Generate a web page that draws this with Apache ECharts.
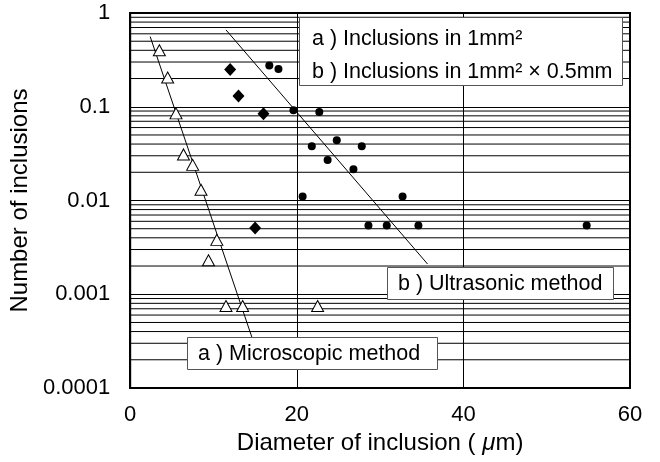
<!DOCTYPE html>
<html>
<head>
<meta charset="utf-8">
<script src="https://cdn.jsdelivr.net/npm/echarts@6/dist/echarts.min.js"></script>
<style>html,body{margin:0;padding:0;background:#fff;}#c{width:660px;height:462px;}</style>
</head>
<body>
<div id="c"></div>
<script>
// ---- data ----
var microscopicX = [3.5, 4.5, 5.5, 6.4, 7.5, 8.5, 10.4, 9.4, 11.5, 13.5, 22.5];
var microscopicY = [0.40, 0.205, 0.085, 0.031, 0.024, 0.013, 0.0038, 0.0023, 0.00075, 0.00075, 0.00075];

var inclAreaX = [12.0, 13.0, 16.0, 15.0];
var inclAreaY = [0.25, 0.13, 0.084, 0.0051];

var ultrasonicX = [16.7, 17.8, 19.6, 22.7, 21.8, 24.8, 27.8, 23.7, 26.8, 20.7, 32.7, 28.6, 30.8, 34.6, 54.8];
var ultrasonicY = [0.275, 0.253, 0.092, 0.088, 0.038, 0.044, 0.038, 0.027, 0.0215, 0.011, 0.011, 0.0054, 0.0054, 0.0054, 0.0054];

var fitMicroX = [2.4, 14.6];
var fitMicroY = [0.56, 0.00035];
var fitUltraX = [11.5, 35.7];
var fitUltraY = [0.66, 0.0021];

var yTickLabels = ['0.0001', '0.001', '0.01', '0.1', '1'];
var xTickLabels = ['0', '20', '40', '60'];

function pairs(xs, ys) { return xs.map(function (x, i) { return [x, ys[i]]; }); }

var FONT = '"Liberation Sans", Arial, sans-serif';
var X_MIN = 0, X_MAX = 60;

// minor horizontal grid lines of the log axis (2..9 x each decade), drawn through the axis scale
var gridSeries = [];
for (var d = -4; d < 0; d++) {
  for (var m = 2; m <= 9; m++) {
    var v = m * Math.pow(10, d);
    gridSeries.push({
      type: 'line', silent: true, symbol: 'none', z: 1,
      data: [[X_MIN, v], [X_MAX, v]],
      lineStyle: { color: '#000', width: 1 }
    });
  }
}

var chart = echarts.init(document.getElementById('c'), null, { renderer: 'canvas' });

var option = {
  backgroundColor: '#fff',
  animation: false,
  grid: { left: 130, right: 30, top: 13, bottom: 74, show: true, borderColor: '#000', borderWidth: 2, backgroundColor: 'transparent' },
  xAxis: {
    type: 'value', min: X_MIN, max: X_MAX, interval: 20,
    name: 'Diameter of inclusion ( {i|μ}m)',
    nameLocation: 'middle', nameGap: 42,
    nameTextStyle: { fontFamily: FONT, fontSize: 24, color: '#000', rich: { i: { fontFamily: FONT, fontSize: 24, fontStyle: 'italic', color: '#000' } } },
    axisLine: { show: true, lineStyle: { color: '#000', width: 2 } },
    axisTick: { show: false },
    axisLabel: { fontFamily: FONT, fontSize: 22, color: '#000', margin: 16,
      formatter: function (v) { var i = Math.round(v / 20); return xTickLabels[i] !== undefined ? xTickLabels[i] : ''; } },
    splitLine: { show: true, lineStyle: { color: '#000', width: 1 } }
  },
  yAxis: {
    type: 'log', logBase: 10, min: 0.0001, max: 1,
    name: 'Number of inclusions',
    nameLocation: 'middle', nameGap: 92, nameRotate: 90,
    nameTextStyle: { fontFamily: FONT, fontSize: 24, color: '#000' },
    axisLine: { show: true, lineStyle: { color: '#000', width: 2 } },
    axisTick: { show: true, inside: true, length: 8, lineStyle: { color: '#000', width: 1 } },
    axisLabel: { fontFamily: FONT, fontSize: 22, color: '#000', margin: 20, padding: [11, 0, 0, 0],
      formatter: function (v) { var i = Math.round(Math.log(v) / Math.LN10) + 4; return yTickLabels[i] !== undefined ? yTickLabels[i] : ''; } },
    splitLine: { show: true, lineStyle: { color: '#000', width: 1 } }
  },
  series: gridSeries.concat([
    {
      type: 'line', data: pairs(fitMicroX, fitMicroY), symbol: 'none', z: 2,
      lineStyle: { color: '#000', width: 1 }
    },
    {
      type: 'line', data: pairs(fitUltraX, fitUltraY), symbol: 'none', z: 2,
      lineStyle: { color: '#000', width: 1 }
    },
    {
      type: 'scatter', data: pairs(microscopicX, microscopicY), z: 5,
      symbol: 'triangle', symbolSize: [12, 11],
      itemStyle: { color: '#fff', borderColor: '#000', borderWidth: 1, opacity: 1 }
    },
    {
      type: 'scatter', data: pairs(inclAreaX, inclAreaY), z: 5,
      symbol: 'diamond', symbolSize: [12, 13],
      itemStyle: { color: '#000', opacity: 1 }
    },
    {
      type: 'scatter', data: pairs(ultrasonicX, ultrasonicY), z: 5,
      symbol: 'circle', symbolSize: 8,
      itemStyle: { color: '#000', opacity: 1 }
    }
  ]),
  graphic: [
    { type: 'rect', z: 100, shape: { x: 299.5, y: 17.5, width: 323, height: 68 },
      style: { fill: '#fff', stroke: '#555', lineWidth: 1 } },
    { type: 'text', z: 101, style: { x: 312, y: 39, text: 'a ) Inclusions in 1mm²', fill: '#000', fontFamily: FONT, fontSize: 21.5, verticalAlign: 'middle' } },
    { type: 'text', z: 101, style: { x: 312, y: 72, text: 'b ) Inclusions in 1mm² × 0.5mm', fill: '#000', fontFamily: FONT, fontSize: 21.5, verticalAlign: 'middle' } },

    { type: 'rect', z: 100, shape: { x: 387.5, y: 267.5, width: 226, height: 32 },
      style: { fill: '#fff', stroke: '#555', lineWidth: 1 } },
    { type: 'text', z: 101, style: { x: 398, y: 284, text: 'b ) Ultrasonic method', fill: '#000', fontFamily: FONT, fontSize: 21.5, verticalAlign: 'middle' } },

    { type: 'rect', z: 100, shape: { x: 187.5, y: 337.5, width: 250, height: 32 },
      style: { fill: '#fff', stroke: '#555', lineWidth: 1 } },
    { type: 'text', z: 101, style: { x: 198, y: 354, text: 'a ) Microscopic method', fill: '#000', fontFamily: FONT, fontSize: 21.5, verticalAlign: 'middle' } }
  ]
};
chart.setOption(option);
</script>
</body>
</html>
